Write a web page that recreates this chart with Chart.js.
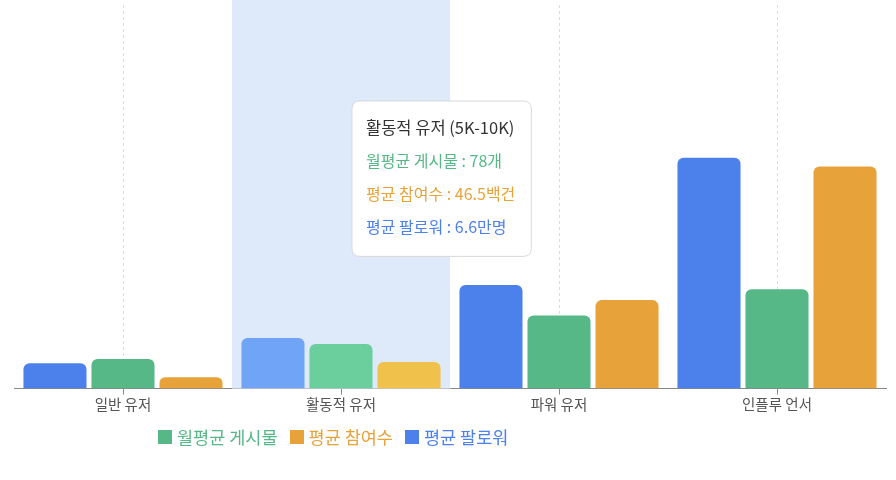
<!DOCTYPE html>
<html>
<head>
<meta charset="utf-8">
<script src="https://cdn.jsdelivr.net/npm/chart.js@4.4.1/dist/chart.umd.min.js"></script>
<style>
  html, body { margin: 0; padding: 0; background: #fff; }
  #wrap { position: relative; width: 896px; height: 480px; }
  #legend {
    position: absolute; left: 158px; top: 424px;
    font-family: "Noto Sans CJK KR", "Noto Sans", sans-serif; font-size: 17.5px;
    display: flex; align-items: center; white-space: nowrap;
  }
  #legend span.item { display: flex; align-items: center; margin-right: 12px; }
  #legend span.box { display: inline-block; width: 14px; height: 14px; margin-right: 5px; }
</style>
</head>
<body>
<div id="wrap">
  <canvas id="myChart"></canvas>
  <div id="legend"></div>
</div>
<script>
// 데이터
var categories = ['일반 유저', '활동적 유저', '파워 유저', '인플루 언서'];
var ranges = ['~5K', '5K-10K', '10K-50K', '50K+'];
var posts = [52, 78, 128, 174];          // 개
var engagement = [20, 46.5, 155, 389];   // 백건
var followers = [3.3, 6.6, 13.5, 30.1];  // 만명

var FONT = '"Noto Sans CJK KR", "Noto Sans", sans-serif';

// 선택된 카테고리 배경
var bandPlugin = {
  id: 'band',
  beforeDatasetsDraw: function(chart) {
    var act = chart.getActiveElements();
    if (!act.length) return;
    var x = chart.scales.x;
    var w = x.width / categories.length;
    var cx = x.getPixelForValue(act[0].index);
    var ctx = chart.ctx;
    ctx.save();
    ctx.fillStyle = '#dee9fa';
    ctx.fillRect(cx - w / 2, 0, w, chart.chartArea.bottom);
    ctx.restore();
  }
};

Chart.Tooltip.positioners.side = function(items) {
  if (!items.length) return false;
  var cx = this.chart.scales.x.getPixelForValue(items[0].index);
  return { x: cx + 11 + 8, y: 101 };
};

var radius = { topLeft: 6, topRight: 6, bottomLeft: 0, bottomRight: 0 };

var ctx = document.getElementById('myChart');
var myChart = new Chart(ctx, {
  type: 'bar',
  data: {
    labels: categories,
    datasets: [
      {
        label: '월평균 게시물', unit: '개', data: posts, yAxisID: 'y', order: 1,
        backgroundColor: '#56b886', hoverBackgroundColor: '#6acf9c',
        borderRadius: radius, borderSkipped: 'start'
      },
      {
        label: '평균 참여수', unit: '백건', data: engagement, yAxisID: 'y', order: 2,
        backgroundColor: '#e8a23a', hoverBackgroundColor: '#f0c24b',
        borderRadius: radius, borderSkipped: 'start'
      },
      {
        label: '평균 팔로워', unit: '만명', data: followers, yAxisID: 'yF', order: 0,
        backgroundColor: '#4c80eb', hoverBackgroundColor: '#70a4f6',
        borderRadius: radius, borderSkipped: 'start'
      }
    ]
  },
  options: {
    responsive: true,
    maintainAspectRatio: false,
    animation: false,
    events: [],
    layout: { padding: { left: 14, right: 10, top: 5, bottom: 66 } },
    interaction: { mode: 'index', intersect: false },
    datasets: { bar: { categoryPercentage: 0.936, barPercentage: 0.927 } },
    scales: {
      x: {
        grid: {
          offset: false, color: '#dcdcdc',
          tickLength: 6, tickColor: '#888', tickBorderDash: []
        },
        border: { color: '#888', width: 1, dash: [3, 3] },
        ticks: { color: '#555', padding: 1, font: { family: FONT, size: 14.5 } }
      },
      y: { display: false, min: 0, max: 672 },
      yF: { display: false, min: 0, max: 50 }
    },
    plugins: {
      legend: { display: false },
      tooltip: {
        position: 'side',
        xAlign: 'left', yAlign: 'top',
        caretSize: 0, caretPadding: 0,
        backgroundColor: '#ffffff',
        borderColor: '#d9d9d9', borderWidth: 1, cornerRadius: 8,
        displayColors: false,
        padding: { left: 14, right: 16, top: 17, bottom: 20 },
        titleColor: '#333',
        titleFont: { family: FONT, size: 16.5, weight: 'normal' },
        titleMarginBottom: 14,
        bodyFont: { family: FONT, size: 16 },
        bodySpacing: 13.5,
        itemSort: function(a, b) { return a.datasetIndex - b.datasetIndex; },
        callbacks: {
          title: function(items) {
            var i = items[0].dataIndex;
            return categories[i] + ' (' + ranges[i] + ')';
          },
          label: function(item) {
            return item.dataset.label + ' : ' + item.raw + item.dataset.unit;
          },
          labelTextColor: function(item) { return item.dataset.backgroundColor; }
        }
      }
    }
  },
  plugins: [bandPlugin]
});

// 범례
var legend = document.getElementById('legend');
myChart.data.datasets.forEach(function(ds) {
  var item = document.createElement('span');
  item.className = 'item';
  item.style.color = ds.backgroundColor;
  var box = document.createElement('span');
  box.className = 'box';
  box.style.background = ds.backgroundColor;
  item.appendChild(box);
  item.appendChild(document.createTextNode(ds.label));
  legend.appendChild(item);
});

// 활동적 유저 선택 상태
var active = [0, 1, 2].map(function(d) { return { datasetIndex: d, index: 1 }; });
myChart.setActiveElements(active);
myChart.tooltip.setActiveElements(active, { x: 341, y: 200 });
myChart.update();
</script>
</body>
</html>
